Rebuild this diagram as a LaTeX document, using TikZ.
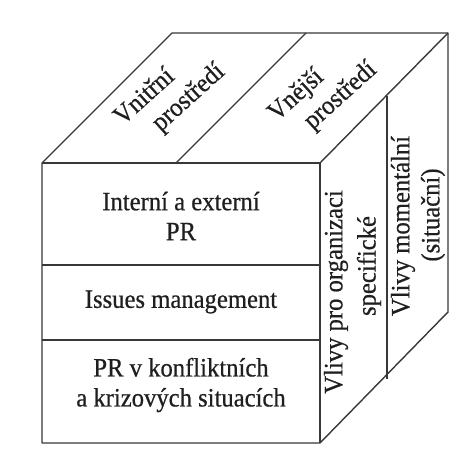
\documentclass[tikz,border=0pt]{standalone}
\usepackage{fontspec}
\setmainfont[FakeStretch=0.93,FakeBold=0.6]{Liberation Serif}
\begin{document}
\begin{tikzpicture}[x=1pt,y=1pt,
  edge/.style={draw=black!78,line width=1.4pt,line join=round},
  lbl/.style={inner sep=0pt,text=black!88,font=\fontsize{26.5}{30}\selectfont,align=center},
  toplbl/.style={lbl,rotate=42,align=left},
  sidelbl/.style={lbl,rotate=90}]
  \useasboundingbox (0,0) rectangle (476,467);
  % corners of the block
  \coordinate (ftl) at (42,304);
  \coordinate (ftr) at (320,304);
  \coordinate (fbr) at (320,24);
  \coordinate (fbl) at (42,24);
  \coordinate (btl) at (172,434);
  \coordinate (btr) at (448,434);
  \coordinate (bbr) at (448,155);
  % top face split
  \coordinate (tsf) at (176,304);
  \coordinate (tsb) at (306,434);
  % right face split
  \coordinate (rst) at (387,371);
  \coordinate (rsb) at (387,88);
  % front face rows
  \coordinate (r1l) at (42,202);
  \coordinate (r1r) at (320,202);
  \coordinate (r2l) at (42,127);
  \coordinate (r2r) at (320,127);

  % outline
  \draw[edge] (fbl) -- (ftl) -- (btl) -- (btr) -- (bbr) -- (fbr) -- cycle;
  \draw[edge] (ftl) -- (ftr) -- (fbr);
  \draw[edge] (ftr) -- (btr);
  \draw[edge] (tsf) -- (tsb);
  \draw[edge] (rst) -- (rsb);
  \draw[edge] (r1l) -- (r1r);
  \draw[edge] (r2l) -- (r2r);

  % front face
  \node[lbl] (ie) at (181,251) {Interní a externí\\PR};
  \node[lbl] (im) at (181,165) {Issues management};
  \node[lbl] (kr) at (181,82) {PR v konfliktních\\a krizových situacích};

  % top face
  \node[toplbl] (vn) at (170,372) {Vnitřní\\\hspace*{24pt}prostředí};
  \node[toplbl] (ve) at (323,375) {Vnější\\\hspace*{21pt}prostředí};

  % right face
  \node[sidelbl] (os1) at (336,175) {Vlivy pro organizaci};
  \node[sidelbl] (os2) at (369,201) {specifické};
  \node[sidelbl] (mo1) at (403,241) {Vlivy momentální};
  \node[sidelbl] (mo2) at (433,252) {(situační)};
\end{tikzpicture}
\end{document}
